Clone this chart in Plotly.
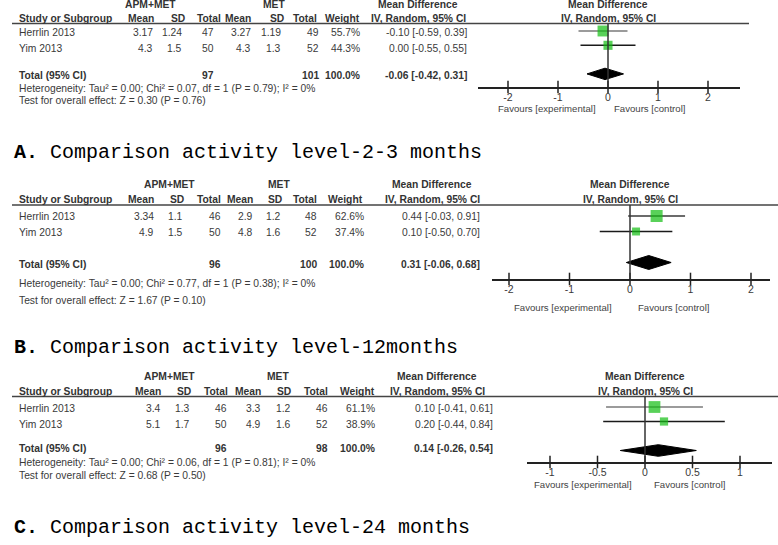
import plotly.graph_objects as go

# ---------------- data ----------------
studies = ["Herrlin 2013", "Yim 2013"]

# Panel A: 2-3 months
a_apm_mean = [3.17, 4.3]
a_apm_sd = [1.24, 1.5]
a_apm_n = [47, 50]
a_met_mean = [3.27, 4.3]
a_met_sd = [1.19, 1.3]
a_met_n = [49, 52]
a_weight = [55.7, 44.3]
a_md = [-0.10, 0.00]
a_lo = [-0.59, -0.55]
a_hi = [0.39, 0.55]
a_total = [97, 101]
a_pooled = [-0.06, -0.42, 0.31]
a_het = "Heterogeneity: Tau² = 0.00; Chi² = 0.07, df = 1 (P = 0.79); I² = 0%"
a_test = "Test for overall effect: Z = 0.30 (P = 0.76)"
a_ticks = [-2, -1, 0, 1, 2]
a_ticktext = ["-2", "-1", "0", "1", "2"]

# Panel B: 12 months
b_apm_mean = [3.34, 4.9]
b_apm_sd = [1.1, 1.5]
b_apm_n = [46, 50]
b_met_mean = [2.9, 4.8]
b_met_sd = [1.2, 1.6]
b_met_n = [48, 52]
b_weight = [62.6, 37.4]
b_md = [0.44, 0.10]
b_lo = [-0.03, -0.50]
b_hi = [0.91, 0.70]
b_total = [96, 100]
b_pooled = [0.31, -0.06, 0.68]
b_het = "Heterogeneity: Tau² = 0.00; Chi² = 0.77, df = 1 (P = 0.38); I² = 0%"
b_test = "Test for overall effect: Z = 1.67 (P = 0.10)"
b_ticks = [-2, -1, 0, 1, 2]
b_ticktext = ["-2", "-1", "0", "1", "2"]

# Panel C: 24 months
c_apm_mean = [3.4, 5.1]
c_apm_sd = [1.3, 1.7]
c_apm_n = [46, 50]
c_met_mean = [3.3, 4.9]
c_met_sd = [1.2, 1.6]
c_met_n = [46, 52]
c_weight = [61.1, 38.9]
c_md = [0.10, 0.20]
c_lo = [-0.41, -0.44]
c_hi = [0.61, 0.84]
c_total = [96, 98]
c_pooled = [0.14, -0.26, 0.54]
c_het = "Heterogeneity: Tau² = 0.00; Chi² = 0.06, df = 1 (P = 0.81); I² = 0%"
c_test = "Test for overall effect: Z = 0.68 (P = 0.50)"
c_ticks = [-1, -0.5, 0, 0.5, 1]
c_ticktext = ["-1", "-0.5", "0", "0.5", "1"]

titles = ["A. Comparison activity level-2-3 months",
          "B. Comparison activity level-12months",
          "C. Comparison activity level-24 months"]

# ---------------- layout / style (pixels) ----------------
W, H = 778, 545
GREEN = "#13bd13"
TXT = "#3a3a3a"
BTXT = "#333333"
SANS = "Liberation Sans"
FS = 10.3

def px(x):
    return x / W

def py(y):
    return 1 - y / H

panels = [
    dict(apm_mean=a_apm_mean, apm_sd=a_apm_sd, apm_n=a_apm_n, met_mean=a_met_mean,
         met_sd=a_met_sd, met_n=a_met_n, weight=a_weight, md=a_md, lo=a_lo, hi=a_hi,
         total=a_total, pooled=a_pooled, het=a_het, test=a_test,
         ticks=a_ticks, ticktext=a_ticktext,
         # style
         h1=5, h2=18, line=23.5, line_right=749, rows=[33, 48], total_y=75,
         het_y=88, test_y=101, fav_y=108, title_y=152,
         grp=[150, 274], hdr_r=[156, 187, 223, 253, 286, 319, 362], md_hdr=418,
         dat_r=[155, 184, 216, 253, 283, 321, 362, 469],
         xdom=[478, 740], x0=608, ppu=50,
         top=23.5, axis=87, row0=31, step=14.3, dia=0.4,
         fav=[598, 612], ci_col=["#7a7a7a", "#1a1a1a"]),
    dict(apm_mean=b_apm_mean, apm_sd=b_apm_sd, apm_n=b_apm_n, met_mean=b_met_mean,
         met_sd=b_met_sd, met_n=b_met_n, weight=b_weight, md=b_md, lo=b_lo, hi=b_hi,
         total=b_total, pooled=b_pooled, het=b_het, test=b_test,
         ticks=b_ticks, ticktext=b_ticktext,
         h1=185, h2=199, line=205, line_right=778, rows=[217, 233], total_y=264,
         het_y=283, test_y=300, fav_y=307, title_y=347,
         grp=[169, 279], hdr_r=[156, 186, 223, 255, 284, 319, 365], md_hdr=432,
         dat_r=[156, 185, 223, 255, 283, 319, 366, 482],
         xdom=[492, 770], x0=630, ppu=60.5,
         top=205, axis=279, row0=216, step=15.5, dia=0.45,
         fav=[614, 636], ci_col=["#3a3a3a", "#1a1a1a"]),
    dict(apm_mean=c_apm_mean, apm_sd=c_apm_sd, apm_n=c_apm_n, met_mean=c_met_mean,
         met_sd=c_met_sd, met_n=c_met_n, weight=c_weight, md=c_md, lo=c_lo, hi=c_hi,
         total=c_total, pooled=c_pooled, het=c_het, test=c_test,
         ticks=c_ticks, ticktext=c_ticktext,
         h1=376, h2=391, line=396.5, line_right=778, rows=[408, 424], total_y=448,
         het_y=462, test_y=475, fav_y=484, title_y=527,
         grp=[169, 278], hdr_r=[163, 193, 230, 263, 293, 330, 377], md_hdr=437,
         dat_r=[163, 192, 229, 263, 293, 330, 377, 495],
         xdom=[527, 772], x0=645, ppu=95,
         top=396.5, axis=462, row0=407, step=14.5, dia=0.4,
         fav=[634, 652], ci_col=["#7a7a7a", "#1a1a1a"]),
]

fig = go.Figure()
ann = []
shapes = []


def txt(x, y, s, anchor="left", bold=False, size=FS, color=None, family=SANS):
    if color is None:
        color = BTXT if bold else TXT
    if bold:
        s = "<b>" + s + "</b>"
    ann.append(dict(x=px(x), y=py(y), xref="paper", yref="paper", text=s,
                    showarrow=False, xanchor=anchor, yanchor="middle",
                    font=dict(family=family, size=size, color=color)))


def fmt(v):
    return f"{v:g}"


layout_axes = {}
for k, p in enumerate(panels):
    sfx = "" if k == 0 else str(k + 1)
    xa, ya = "x" + sfx, "y" + sfx

    # ----- header text -----
    txt(p["grp"][0], p["h1"], "APM+MET", "center", True)
    txt(p["grp"][1], p["h1"], "MET", "center", True)
    txt(p["md_hdr"], p["h1"], "Mean Difference", "center", True)
    txt(p["x0"], p["h1"], "Mean Difference", "center", True)
    txt(17, p["h2"], "Study or Subgroup", "left", True)
    for lab, xr in zip(["Mean", "SD", "Total", "Mean", "SD", "Total", "Weight"], p["hdr_r"]):
        txt(xr, p["h2"], lab, "right", True)
    txt(p["md_hdr"], p["h2"], "IV, Random, 95% CI", "center", True)
    txt(p["x0"], p["h2"], "IV, Random, 95% CI", "center", True)

    shapes.append(dict(type="line", xref="paper", yref="paper",
                       x0=px(12), x1=px(p["line_right"]), y0=py(p["line"]), y1=py(p["line"]),
                       line=dict(color="#444444", width=1.6)))

    # ----- study rows -----
    r = p["dat_r"]
    for i, name in enumerate(studies):
        y = p["rows"][i]
        txt(17, y, name)
        vals = [fmt(p["apm_mean"][i]), fmt(p["apm_sd"][i]), str(p["apm_n"][i]),
                fmt(p["met_mean"][i]), fmt(p["met_sd"][i]), str(p["met_n"][i]),
                f"{p['weight'][i]:.1f}%",
                f"{p['md'][i]:.2f} [{p['lo'][i]:.2f}, {p['hi'][i]:.2f}]"]
        for v, xr in zip(vals, r):
            txt(xr, y, v, "right")

    # ----- total row -----
    ty = p["total_y"]
    pe, pl, ph = p["pooled"]
    txt(17, ty, "Total (95% CI)", "left", True)
    txt(r[2], ty, str(p["total"][0]), "right", True)
    txt(r[5], ty, str(p["total"][1]), "right", True)
    txt(r[6], ty, f"{sum(p['weight']):.1f}%", "right", True)
    txt(r[7], ty, f"{pe:.2f} [{pl:.2f}, {ph:.2f}]", "right", True)
    txt(17, p["het_y"], p["het"])
    txt(17, p["test_y"], p["test"])

    # ----- forest plot -----
    ybot = (p["axis"] - p["row0"]) / p["step"]
    ytop = (p["top"] - p["row0"]) / p["step"]
    xl = (p["xdom"][0] - p["x0"]) / p["ppu"]
    xr_ = (p["xdom"][1] - p["x0"]) / p["ppu"]

    for i in range(len(studies)):
        fig.add_trace(go.Scatter(x=[p["lo"][i], p["hi"][i]], y=[i, i], mode="lines",
                                 line=dict(color=p["ci_col"][i], width=1.4),
                                 xaxis=xa, yaxis=ya, showlegend=False,
                                 hoverinfo="skip", cliponaxis=False))
    fig.add_trace(go.Scatter(x=p["md"], y=list(range(len(studies))), mode="markers",
                             marker=dict(symbol="square", color=GREEN,
                                         size=[2 + 0.16 * w for w in p["weight"]],
                                         line=dict(width=0)),
                             xaxis=xa, yaxis=ya, showlegend=False, cliponaxis=False))
    trow = 3
    h = p["dia"]
    fig.add_trace(go.Scatter(x=[pl, pe, ph, pe, pl], y=[trow, trow - h, trow, trow + h, trow],
                             mode="lines", fill="toself", fillcolor="black",
                             line=dict(color="black", width=1),
                             xaxis=xa, yaxis=ya, showlegend=False, cliponaxis=False))
    # tick marks crossing the axis line
    fig.add_trace(go.Scatter(x=p["ticks"], y=[ybot] * len(p["ticks"]), mode="markers",
                             marker=dict(symbol="line-ns", size=9, color="#222222",
                                         line=dict(color="#222222", width=1.5)),
                             xaxis=xa, yaxis=ya, showlegend=False, cliponaxis=False,
                             hoverinfo="skip"))
    # zero line
    shapes.append(dict(type="line", xref=xa, yref=ya + " domain", x0=0, x1=0, y0=0, y1=1,
                       line=dict(color="#333333", width=1.5)))

    layout_axes["xaxis" + sfx] = dict(
        domain=[px(p["xdom"][0]), px(p["xdom"][1])], range=[xl, xr_], anchor=ya,
        showline=True, linecolor="#222222", linewidth=1.6, ticks="",
        tickvals=p["ticks"], ticktext=p["ticktext"], showgrid=False, zeroline=False,
        tickfont=dict(family=SANS, size=10.5, color=TXT), fixedrange=True)
    layout_axes["yaxis" + sfx] = dict(
        domain=[py(p["axis"]), py(p["top"])], range=[ybot, ytop], anchor=xa,
        visible=False, fixedrange=True)

    txt(p["fav"][0], p["fav_y"], "Favours [experimental]", "right", size=9.6, color="#444444")
    txt(p["fav"][1], p["fav_y"], "Favours [control]", "left", size=9.6, color="#444444")

    # panel title
    t = titles[k]
    txt(12, p["title_y"], "<b>" + t[:2] + "</b>" + t[2:], "left", size=20,
        color="#000000", family="Liberation Mono")

fig.update_layout(
    width=W, height=H, margin=dict(l=0, r=0, t=0, b=0),
    paper_bgcolor="white", plot_bgcolor="white",
    annotations=ann, shapes=shapes, showlegend=False,
    **layout_axes,
)

fig.write_html("out.html", config={"displayModeBar": False},
               post_script="document.body.style.margin='0';document.body.style.overflow='hidden';")
